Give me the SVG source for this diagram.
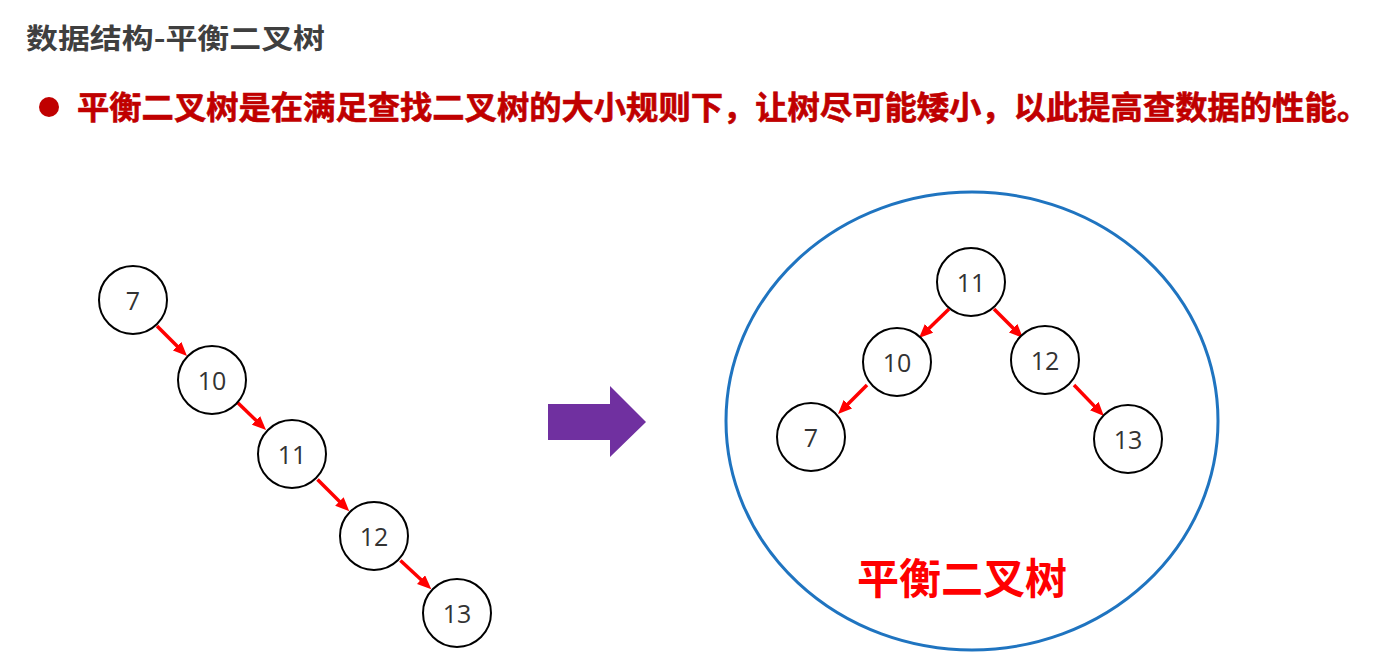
<svg xmlns="http://www.w3.org/2000/svg" width="1374" height="670" viewBox="0 0 1374 670">
<defs>
<style>
.node circle{fill:#fff;stroke:#000;stroke-width:2}
.node text{font-family:"Open Sans","Noto Sans",sans-serif;font-size:25px;fill:#333;text-anchor:middle;dominant-baseline:central}
.edge{stroke:#f00;stroke-width:3.5;fill:none}
.cjk{font-family:"Noto Sans CJK SC","Noto Sans",sans-serif;font-weight:bold}
</style>
<marker id="ah" markerUnits="userSpaceOnUse" markerWidth="14" markerHeight="12" refX="2" refY="6" orient="auto">
<path d="M0,0 L14,6 L0,12 z" fill="#f00"/>
</marker>
</defs>
<rect width="1374" height="670" fill="#fff"/>
<text class="cjk" x="26" y="49" font-size="28" fill="#3f3f3f" textLength="299" lengthAdjust="spacingAndGlyphs">数据结构-平衡二叉树</text>
<circle cx="49" cy="107" r="10" fill="#c00000"/>
<text class="cjk" x="77" y="119" font-size="32" fill="#c00000" stroke="#c00000" stroke-width="0.6" textLength="1292" lengthAdjust="spacingAndGlyphs">平衡二叉树是在满足查找二叉树的大小规则下，让树尽可能矮小，以此提高查数据的性能。</text>
<g id="transform-arrow"><path d="M548,404 L610,404 L610,386 L646,422 L610,457 L610,440 L548,440 z" fill="#7030a0"/></g>
<g id="balanced-tree-frame"><ellipse cx="972" cy="421" rx="246" ry="229" fill="none" stroke="#1f74c0" stroke-width="3"/>
<text class="cjk" x="962" y="594" font-size="42" fill="#f00" text-anchor="middle">平衡二叉树</text></g>
<g id="connectors">
<line class="edge" x1="157" y1="326" x2="178.5" y2="347.5" marker-end="url(#ah)"/>
<line class="edge" x1="237" y1="402" x2="257.4" y2="421.7" marker-end="url(#ah)"/>
<line class="edge" x1="317.5" y1="479.5" x2="340.8" y2="502.8" marker-end="url(#ah)"/>
<line class="edge" x1="400.4" y1="560.5" x2="422.5" y2="581" marker-end="url(#ah)"/>
<line class="edge" x1="949" y1="309" x2="927.6" y2="329.7" marker-end="url(#ah)"/>
<line class="edge" x1="994" y1="309" x2="1014.5" y2="329.5" marker-end="url(#ah)"/>
<line class="edge" x1="867" y1="385" x2="846.5" y2="405.5" marker-end="url(#ah)"/>
<line class="edge" x1="1074" y1="385" x2="1095.6" y2="407.4" marker-end="url(#ah)"/>
</g>
<g id="L7" class="node"><circle cx="133" cy="300" r="34"/><text x="133" y="300">7</text></g>
<g id="L10" class="node"><circle cx="212" cy="380" r="34"/><text x="212" y="380">10</text></g>
<g id="L11" class="node"><circle cx="292" cy="454" r="34"/><text x="292" y="454">11</text></g>
<g id="L12" class="node"><circle cx="374" cy="536" r="34"/><text x="374" y="536">12</text></g>
<g id="L13" class="node"><circle cx="457" cy="613" r="34"/><text x="457" y="613">13</text></g>
<g id="R11" class="node"><circle cx="971" cy="282" r="34"/><text x="971" y="282">11</text></g>
<g id="R10" class="node"><circle cx="897" cy="362" r="34"/><text x="897" y="362">10</text></g>
<g id="R12" class="node"><circle cx="1045" cy="360" r="34"/><text x="1045" y="360">12</text></g>
<g id="R7" class="node"><circle cx="811" cy="437" r="34"/><text x="811" y="437">7</text></g>
<g id="R13" class="node"><circle cx="1128" cy="439" r="34"/><text x="1128" y="439">13</text></g>
</svg>
